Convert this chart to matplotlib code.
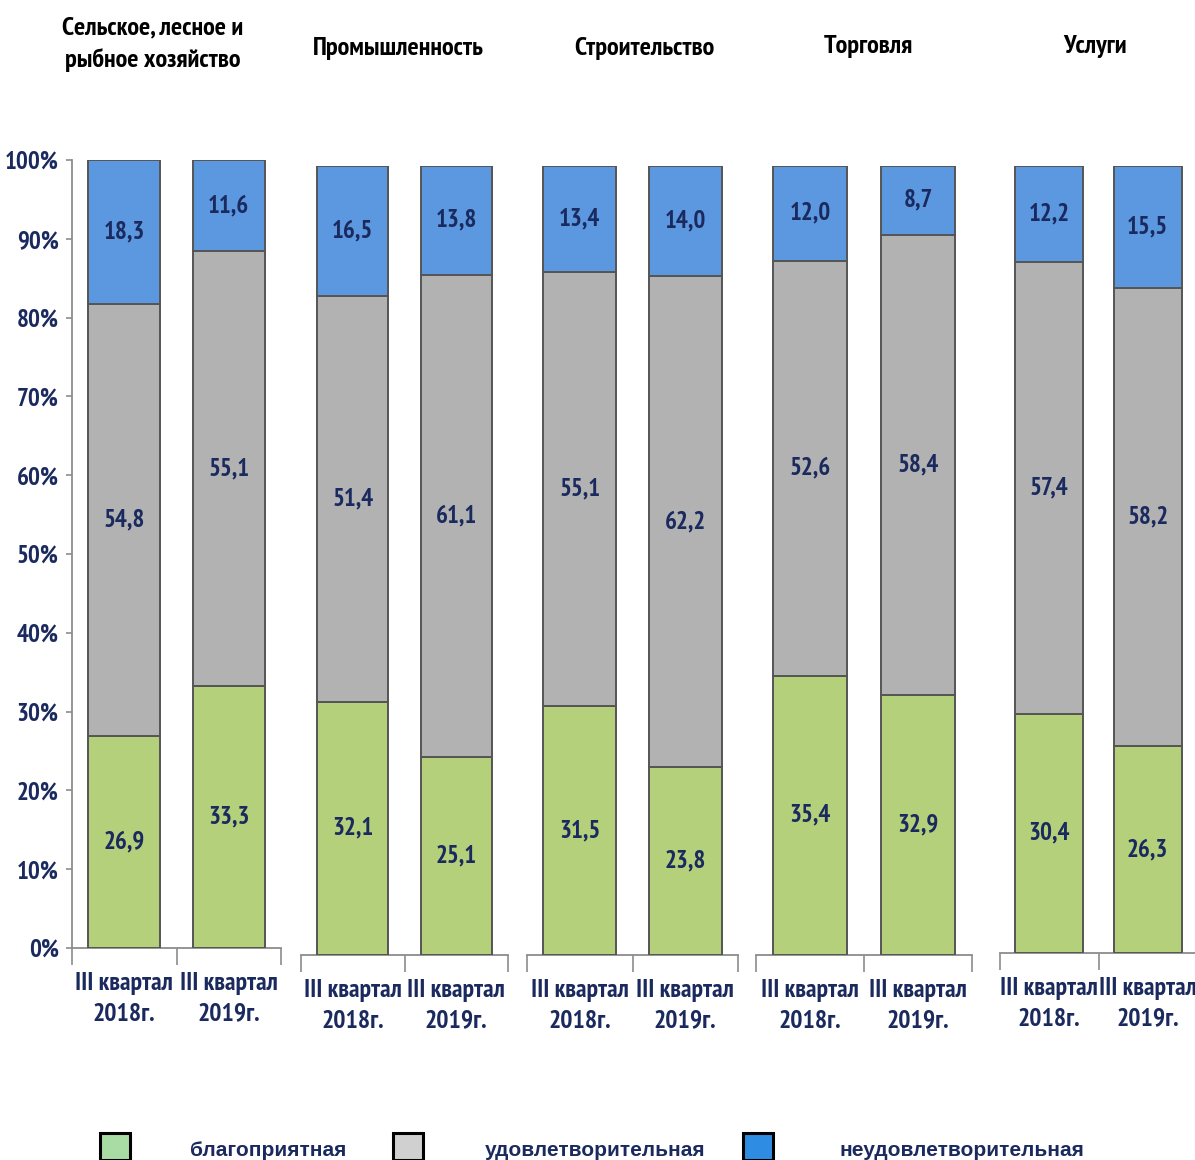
import numpy as np
import matplotlib
matplotlib.use('Agg')
import matplotlib.pyplot as plt
from matplotlib.patches import Rectangle

plt.rcParams['font.family'] = ['PT Sans Narrow', 'DejaVu Sans']
plt.rcParams['font.stretch'] = 'condensed'
plt.rcParams['font.weight'] = 'bold'

# Data
SECTORS = ['Сельское, лесное и\nрыбное хозяйство', 'Промышленность',
           'Строительство', 'Торговля', 'Услуги']
PERIODS = ['III квартал\n2018г.', 'III квартал\n2019г.']
GOOD = [[26.9, 33.3], [32.1, 25.1], [31.5, 23.8], [35.4, 32.9], [30.4, 26.3]]
OK = [[54.8, 55.1], [51.4, 61.1], [55.1, 62.2], [52.6, 58.4], [57.4, 58.2]]
BAD = [[18.3, 11.6], [16.5, 13.8], [13.4, 14.0], [12.0, 8.7], [12.2, 15.5]]
LEGEND_LABELS = ['благоприятная', 'удовлетворительная', 'неудовлетворительная']

COLORS = ['#b5d07a', '#b2b2b2', '#5b98e0']
LEGEND_COLORS = ['#a9dca5', '#d0d0d0', '#2e8ce2']
NAVY = '#1b2a5e'
EDGE = '#555555'

W, H = 1195, 1160
# panel pixel boxes: left, right, top, bottom
PANELS = [(72, 281, 160, 948), (301, 508, 166, 955), (527, 738, 166, 955),
          (756, 972, 166, 955), (1000, 1197, 166, 953)]
TITLE_POS = [(153, 44), (398, 49), (644, 48), (868, 46), (1095, 47)]

fig = plt.figure(figsize=(W / 100, H / 100), dpi=100)

for i, (l, r, t, b) in enumerate(PANELS):
    ax = fig.add_axes([l / W, 1 - b / H, (r - l) / W, (b - t) / H])
    x = np.arange(2)
    g = np.array(GOOD[i]); o = np.array(OK[i]); bd = np.array(BAD[i])
    bottoms = [np.zeros(2), g, g + o]
    for vals, bot, c in zip([g, o, bd], bottoms, COLORS):
        ax.bar(x, vals, 0.69, bottom=bot, color=c, edgecolor=EDGE, linewidth=1.4, zorder=3)
        for xi, v, bo in zip(x, vals, bot):
            ax.text(xi, bo + v / 2, f'{v:.1f}'.replace('.', ','), ha='center', va='center',
                    fontsize=18, color=NAVY, fontweight='bold', zorder=4)
    ax.set_xlim(-0.5, 1.5)
    ax.set_ylim(0, 100)
    for s in ['top', 'right']:
        ax.spines[s].set_visible(False)
    ax.spines['bottom'].set_color('#8c8c8c')
    ax.spines['bottom'].set_linewidth(1.3)
    ax.set_xticks([-0.5, 0.5, 1.5])
    ax.set_xticklabels([])
    ax.tick_params(axis='x', which='major', length=12, color='#8c8c8c', width=1.2)
    ax.set_xticks(x, minor=True)
    ax.set_xticklabels(PERIODS, minor=True, fontsize=18.5, color=NAVY, fontweight='bold',
                       linespacing=1.45)
    ax.tick_params(axis='x', which='minor', length=0, pad=17)
    if i == 0:
        ax.spines['left'].set_color('#8c8c8c')
        ax.spines['left'].set_linewidth(1.3)
        ax.set_yticks(np.arange(0, 101, 10))
        ax.set_yticklabels([f'{v}%' for v in range(0, 101, 10)], fontsize=18,
                           color=NAVY, fontweight='bold')
        ax.tick_params(axis='y', length=4.5, color='#8c8c8c', width=1.2, pad=5)
    else:
        ax.spines['left'].set_visible(False)
        ax.set_yticks([])
    tx, ty = TITLE_POS[i]
    fig.text(tx / W, 1 - ty / H, SECTORS[i], ha='center', va='center', fontsize=19,
             fontweight='bold', color='black', linespacing=1.45)

# legend, cut at the bottom edge like the reference
LEG_BOX = [100, 393, 743]
LEG_TEXT = [190, 485, 840]
for bx, txx, c, lab in zip(LEG_BOX, LEG_TEXT, LEGEND_COLORS, LEGEND_LABELS):
    fig.add_artist(Rectangle((bx / W, 0), 30 / W, 27 / H, transform=fig.transFigure,
                             facecolor=c, edgecolor='black', linewidth=2.2))
    fig.text(txx / W, 1 - 1151 / H, lab, ha='left', va='center', fontsize=15,
             fontweight='bold', color=NAVY, family=['Liberation Sans', 'DejaVu Sans'],
             fontstretch='normal')

fig.savefig('out.png', dpi=100)
